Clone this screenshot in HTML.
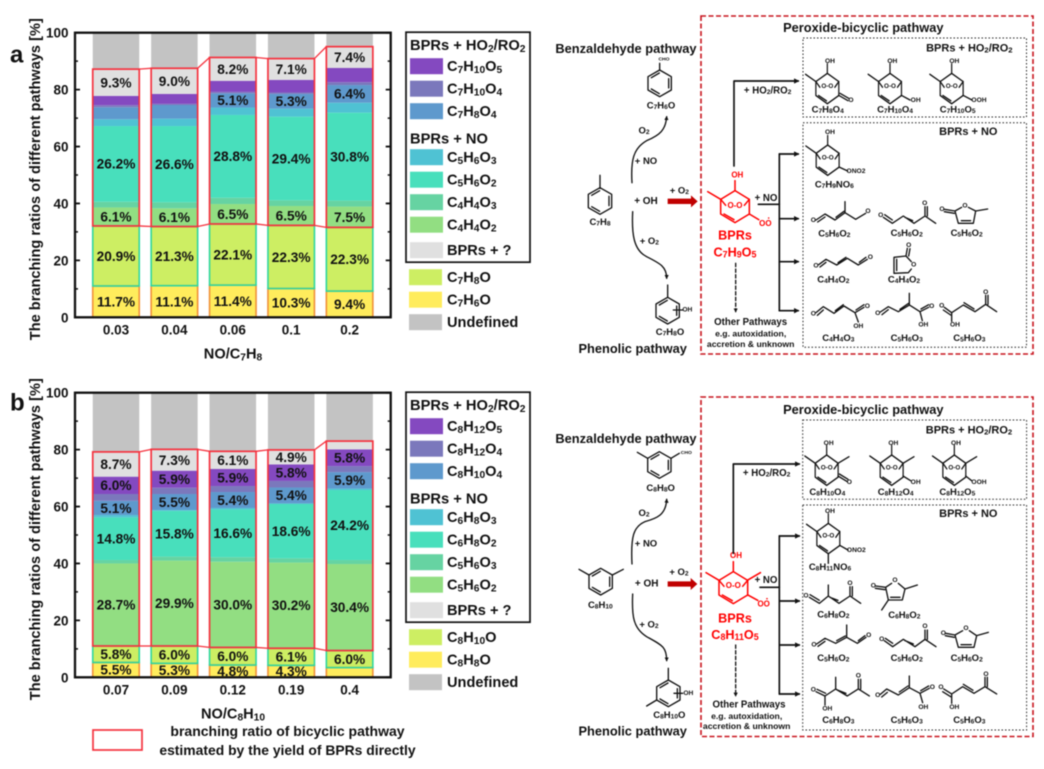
<!DOCTYPE html>
<html lang="en">
<head>
<meta charset="utf-8">
<title>Branching ratios of pathways</title>
<style>
html,body{margin:0;padding:0;background:#fff}
svg#figure{display:block;filter:blur(.45px)}
text{font-family:"Liberation Sans",Arial,sans-serif;font-weight:700;fill:#111}
tspan.s{font-size:70%;baseline-shift:-22%}
.z text{text-anchor:middle;dominant-baseline:central}
.z .f{font-size:28.5px}
.z .o{font-size:20px}
.z .p{font-size:38.5px}
.z .l{font-size:29px}
.z .m{font-size:24px}
.z .n{font-size:26px}
.z .oo{font-size:19px}
.z .bp{font-size:38px}
.z .b{fill:none;stroke:#111;stroke-width:4;stroke-linejoin:round;stroke-linecap:round}
.r text{fill:#f00}
</style>
</head>
<body>
<svg id="figure" xmlns="http://www.w3.org/2000/svg" width="1044" height="769" viewBox="0 0 1044 769">
<defs>
  <g id="core" fill="none" stroke="currentColor" stroke-width="4.5" stroke-linejoin="round" stroke-linecap="round">
    <path d="M0,0 L-43,26 L-43,70 L0,96 L43,70 L43,26 Z"/>
    <path d="M-33,70 L-3,87"/>
    <path d="M-43,26 L-28,44 M28,44 L43,26"/>
    <path d="M-43,26 L-82,3"/>
    <path d="M0,0 L0,-30"/>
  </g>
  <g id="benz" fill="none" stroke="#111" stroke-width="4" stroke-linejoin="round" stroke-linecap="round">
    <path d="M0,-40 L35,-20 L35,20 L0,40 L-35,20 L-35,-20 Z"/>
    <path d="M27,-14 L27,14 M-1,31 L-25,17 M-25,-17 L-1,-31"/>
  </g>
  <marker id="tip" viewBox="0 0 10 10" refX="8" refY="5" markerWidth="3.2" markerHeight="3.2" orient="auto" markerUnits="strokeWidth"><path d="M0,0 L10,5 L0,10 Z" fill="#111"/></marker>
</defs>

<g id="chart-root"></g>

<!-- Scheme A left -->
<g class="z" transform="translate(400,20) scale(.33333)">
  <text class="p" x="678" y="85">Benzaldehyde pathway</text>
  <g>
    <text class="o" style="font-size:15px" x="792" y="119">CHO</text>
    <path class="b" d="M779,130 L779,150"/>
    <use href="#benz" transform="translate(779,190)"/>
    <text class="f" x="783" y="258">C<tspan class="s">7</tspan>H<tspan class="s">6</tspan>O</text>
  </g>
  <path class="b" d="M696,488 C692,420 700,385 740,362 C780,345 797,330 800,290" marker-end="url(#tip)"/>
  <text class="f" x="732" y="333">O<tspan class="s">2</tspan></text>
  <text class="f" x="738" y="425">+ NO</text>
  <g>
    <path class="b" d="M600,505 L600,466"/>
    <use href="#benz" transform="translate(600,543)"/>
    <text class="f" x="600" y="607">C<tspan class="s">7</tspan>H<tspan class="s">8</tspan></text>
  </g>
  <text class="l" style="font-size:30px" x="738" y="545">+ OH</text>
  <text class="f" x="838" y="513">+ O<tspan class="s">2</tspan></text>
  <path d="M803,536 L873,536 L873,526 L893,544 L873,562 L873,552 L803,552 Z" fill="#c00000"/>
  <path class="b" d="M698,575 C695,640 700,690 740,710 C780,730 800,740 800,775" marker-end="url(#tip)"/>
  <text class="f" x="748" y="665">+ O<tspan class="s">2</tspan></text>
  <g>
    <path class="b" d="M803,795 L803,832 M820,870 L848,870"/>
    <use href="#benz" transform="translate(803,872)"/>
    <text class="o" x="862" y="870">OH</text>
    <text class="f" x="810" y="938">C<tspan class="s">7</tspan>H<tspan class="s">8</tspan>O</text>
  </g>
  <text class="p" x="698" y="985">Phenolic pathway</text>
</g>

<!-- Scheme A right -->
<rect x="701" y="16" width="332" height="338" fill="none" stroke="#c8141e" stroke-width="1.6" stroke-dasharray="5 2.5"/>
<rect x="803" y="38" width="223.5" height="79" fill="none" stroke="#222" stroke-width="1" stroke-dasharray="1.5 2"/>
<rect x="803" y="122.7" width="223.5" height="224.5" fill="none" stroke="#222" stroke-width="1" stroke-dasharray="1.5 2"/>
<g class="z" transform="translate(690,10) scale(.33333)">
  <text class="p" x="520" y="52">Peroxide-bicyclic pathway</text>
  <text class="l" style="font-size:33px" x="838" y="115">BPRs + HO<tspan class="s">2</tspan>/RO<tspan class="s">2</tspan></text>
  <text class="l" style="font-size:33px" x="835" y="366">BPRs + NO</text>
  <path class="b" style="stroke-width:5" d="M132,468 L132,213 L325,213" marker-end="url(#tip)"/>
  <text class="f" style="font-size:29px" x="233" y="243">+ HO<tspan class="s">2</tspan>/RO<tspan class="s">2</tspan></text>
  <text class="l" style="font-size:29px" x="228" y="565">+ NO</text>
  <path class="b" style="stroke-width:5" d="M205,583 L268,583"/>
  <path class="b" style="stroke-width:5" d="M268,432 L268,902"/>
  <path class="b" style="stroke-width:5" d="M268,432 L325,432" marker-end="url(#tip)"/>
  <path class="b" style="stroke-width:5" d="M268,626 L325,626" marker-end="url(#tip)"/>
  <path class="b" style="stroke-width:5" d="M268,755 L325,755" marker-end="url(#tip)"/>
  <path class="b" style="stroke-width:5" d="M268,902 L325,902" marker-end="url(#tip)"/>
  <g class="r" color="#f00">
    <use href="#core" transform="translate(135,542)"/>
    <path d="M178,612 L208,630" fill="none" stroke="#f00" stroke-width="4.5"/>
    <text class="m" x="142" y="495">OH</text>
    <text class="m" x="135" y="587">O-O</text>
    <text class="m" x="226" y="640">OO</text>
    <circle cx="236" cy="624" r="2.4" fill="#f00"/>
    <text class="bp" x="135" y="677">BPRs</text>
    <text class="bp" x="135" y="728">C<tspan class="s">7</tspan>H<tspan class="s">9</tspan>O<tspan class="s">5</tspan></text>
  </g>
  <path class="b" d="M137,760 L137,905" stroke-dasharray="10 7" marker-end="url(#tip)"/>
  <text class="l" x="182" y="937">Other Pathways</text>
  <text class="n" x="182" y="970">e.g. autoxidation,</text>
  <text class="n" x="182" y="1002">accretion &amp; unknown</text>

  <g>
    <use href="#core" transform="translate(412,190) scale(.8,.95)" color="#111"/>
    <path class="b" d="M446,256 L474,272 M450,250 L476,265"/>
    <text class="o" x="420" y="155">OH</text><text class="oo" x="412" y="229">O-O</text><text class="o" x="483" y="272">O</text>
    <text class="f" x="413" y="300">C<tspan class="s">7</tspan>H<tspan class="s">8</tspan>O<tspan class="s">4</tspan></text>
  </g>
  <g>
    <use href="#core" transform="translate(600,190) scale(.8,.95)" color="#111"/>
    <path class="b" d="M634,256 L660,270"/>
    <text class="o" x="607" y="155">OH</text><text class="oo" x="600" y="229">O-O</text><text class="o" x="677" y="272">OH</text>
    <text class="f" x="615" y="300">C<tspan class="s">7</tspan>H<tspan class="s">10</tspan>O<tspan class="s">4</tspan></text>
  </g>
  <g>
    <use href="#core" transform="translate(785,190) scale(.8,.95)" color="#111"/>
    <path class="b" d="M819,256 L846,270"/>
    <text class="o" x="793" y="155">OH</text><text class="oo" x="785" y="229">O-O</text><text class="o" x="867" y="271">OOH</text>
    <text class="f" x="803" y="300">C<tspan class="s">7</tspan>H<tspan class="s">10</tspan>O<tspan class="s">5</tspan></text>
  </g>
  <g>
    <use href="#core" transform="translate(413,405) scale(.8,.95)" color="#111"/>
    <path class="b" d="M447,471 L473,483"/>
    <text class="o" x="420" y="368">OH</text><text class="oo" x="413" y="444">O-O</text><text class="o" x="498" y="484">ONO2</text>
    <text class="f" x="433" y="525">C<tspan class="s">7</tspan>H<tspan class="s">9</tspan>NO<tspan class="s">6</tspan></text>
  </g>
  <g>
    <path class="b" d="M378,630 L405,612 L435,630 L465,608 L497,628 L527,610 M383,636 L405,621 M438,622 L462,604 M465,608 L465,575"/>
    <text class="o" x="370" y="632">O</text><text class="o" x="534" y="604">O</text>
    <text class="f" x="433" y="672">C<tspan class="s">5</tspan>H<tspan class="s">6</tspan>O<tspan class="s">2</tspan></text>
  </g>
  <g>
    <path class="b" d="M580,622 L607,640 L640,618 L672,640 L705,618 L737,640 M584,614 L607,630 M645,622 L668,632 M705,618 L705,590 M712,618 L712,590"/>
    <text class="o" x="572" y="617">O</text><text class="o" x="704" y="580">O</text>
    <text class="f" x="650" y="670">C<tspan class="s">5</tspan>H<tspan class="s">6</tspan>O<tspan class="s">2</tspan></text>
  </g>
  <g>
    <path class="b" d="M763,598 L795,603 M763,605 L793,610 M795,603 L815,592 M835,592 L857,603 L850,640 L805,640 L795,603 M814,632 L842,632 M857,603 L893,597"/>
    <text class="o" x="756" y="598">O</text><text class="o" x="825" y="588">O</text>
    <text class="f" x="830" y="670">C<tspan class="s">5</tspan>H<tspan class="s">6</tspan>O<tspan class="s">2</tspan></text>
  </g>
  <g>
    <path class="b" d="M386,764 L408,748 L440,765 L472,745 L505,765 L532,748 M390,771 L408,757 M444,758 L468,742 M508,757 L528,742"/>
    <text class="o" x="378" y="768">O</text><text class="o" x="541" y="742">O</text>
    <text class="f" x="430" y="810">C<tspan class="s">4</tspan>H<tspan class="s">4</tspan>O<tspan class="s">2</tspan></text>
  </g>
  <g>
    <path class="b" d="M652,715 L648,738 M660,716 L656,738 M648,738 L612,742 L612,790 L655,788 L664,777 M648,738 L664,755 M620,748 L620,782"/>
    <text class="o" x="656" y="706">O</text><text class="o" x="671" y="765">O</text>
    <text class="f" x="642" y="810">C<tspan class="s">4</tspan>H<tspan class="s">4</tspan>O<tspan class="s">2</tspan></text>
  </g>
  <g>
    <path class="b" d="M378,908 L400,890 L432,910 L462,888 L495,908 L522,892 M382,916 L400,900 M436,902 L460,884 M495,908 L505,936 M498,900 L522,884"/>
    <text class="o" x="370" y="912">O</text><text class="o" x="532" y="889">O</text><text class="o" x="505" y="950">OH</text>
    <text class="f" x="445" y="985">C<tspan class="s">4</tspan>H<tspan class="s">4</tspan>O<tspan class="s">3</tspan></text>
  </g>
  <g>
    <path class="b" d="M571,906 L595,890 L625,905 L658,885 L690,905 L716,892 M576,914 L595,899 M630,898 L656,880 M658,885 L658,850 M693,897 L716,884 M690,905 L697,932"/>
    <text class="o" x="563" y="910">O</text><text class="o" x="725" y="889">O</text><text class="o" x="700" y="945">OH</text>
    <text class="f" x="650" y="985">C<tspan class="s">5</tspan>H<tspan class="s">6</tspan>O<tspan class="s">3</tspan></text>
  </g>
  <g>
    <path class="b" d="M763,892 L785,908 L820,885 L855,905 L887,883 L920,905 M760,900 L782,915 M822,878 L852,897 M887,883 L887,856 M894,883 L894,856 M785,908 L785,934"/>
    <text class="o" x="755" y="888">O</text><text class="o" x="887" y="847">O</text><text class="o" x="795" y="945">OH</text>
    <text class="f" x="838" y="985">C<tspan class="s">5</tspan>H<tspan class="s">6</tspan>O<tspan class="s">3</tspan></text>
  </g>
</g>

<!-- Scheme B left -->
<g class="z" transform="translate(530,390) scale(.33333)">
  <text class="p" x="288" y="145">Benzaldehyde pathway</text>
  <g>
    <use href="#benz" transform="translate(388,225)"/>
    <path class="b" d="M353,205 L322,187 M423,205 L448,190"/>
    <text class="o" style="font-size:15px" x="469" y="189">CHO</text>
    <text class="f" x="392" y="295">C<tspan class="s">8</tspan>H<tspan class="s">8</tspan>O</text>
  </g>
  <path class="b" d="M306,522 C302,440 310,410 345,395 C380,385 408,375 410,328" marker-end="url(#tip)"/>
  <text class="f" x="342" y="370">O<tspan class="s">2</tspan></text>
  <text class="f" x="348" y="462">+ NO</text>
  <g>
    <use href="#benz" transform="translate(212,575)"/>
    <path class="b" d="M177,555 L147,538 M247,555 L280,538"/>
    <text class="f" x="211" y="647">C<tspan class="s">8</tspan>H<tspan class="s">10</tspan></text>
  </g>
  <text class="l" style="font-size:30px" x="350" y="582">+ OH</text>
  <text class="f" x="447" y="548">+ O<tspan class="s">2</tspan></text>
  <path d="M413,574 L482,574 L482,564 L502,582 L482,600 L482,590 L413,590 Z" fill="#c00000"/>
  <path class="b" d="M308,612 C305,680 310,715 350,740 C395,765 410,770 410,812" marker-end="url(#tip)"/>
  <text class="f" x="357" y="705">+ O<tspan class="s">2</tspan></text>
  <g>
    <use href="#benz" transform="translate(415,910)"/>
    <path class="b" d="M415,835 L415,870 M380,930 L350,948 M432,910 L458,910"/>
    <text class="o" x="475" y="910">OH</text>
    <text class="f" x="418" y="977">C<tspan class="s">8</tspan>H<tspan class="s">10</tspan>O</text>
  </g>
  <text class="p" x="308" y="1023">Phenolic pathway</text>
  <g class="r" color="#f00">
    <use href="#core" transform="translate(610,545)"/>
    <path d="M652,571 L693,547 M652,614 L685,632" fill="none" stroke="#f00" stroke-width="4.5"/>
    <text class="m" x="618" y="497">OH</text>
    <text class="m" x="610" y="587">O-O</text>
    <text class="m" x="701" y="642">OO</text>
    <circle cx="711" cy="626" r="2.4" fill="#f00"/>
    <text class="bp" x="615" y="685">BPRs</text>
    <text class="bp" x="615" y="735">C<tspan class="s">8</tspan>H<tspan class="s">11</tspan>O<tspan class="s">5</tspan></text>
  </g>
  <path class="b" d="M617,765 L617,918" stroke-dasharray="10 7" marker-end="url(#tip)"/>
  <text class="l" x="657" y="945">Other Pathways</text>
  <text class="n" x="650" y="978">e.g. autoxidation,</text>
  <text class="n" x="650" y="1008">accretion &amp; unknown</text>
  <text class="f" style="font-size:29px" x="710" y="250">+ HO<tspan class="s">2</tspan>/RO<tspan class="s">2</tspan></text>
  <text class="l" style="font-size:29px" x="708" y="572">+ NO</text>
  <path class="b" style="stroke-width:5" d="M690,592 L748,592"/>
  <path class="b" style="stroke-width:5" d="M610,490 L610,222 L808,222" marker-end="url(#tip)"/>
</g>

<!-- Scheme B right -->
<rect x="701" y="397" width="332" height="339.5" fill="none" stroke="#c8141e" stroke-width="1.6" stroke-dasharray="5 2.5"/>
<rect x="802.7" y="420" width="223.9" height="79.3" fill="none" stroke="#222" stroke-width="1" stroke-dasharray="1.5 2"/>
<rect x="802.7" y="505" width="223.9" height="225" fill="none" stroke="#222" stroke-width="1" stroke-dasharray="1.5 2"/>
<g class="z" transform="translate(770,390) scale(.33333)">
  <text class="p" x="280" y="58">Peroxide-bicyclic pathway</text>
  <text class="l" style="font-size:33px" x="597" y="122">BPRs + HO<tspan class="s">2</tspan>/RO<tspan class="s">2</tspan></text>
  <text class="l" style="font-size:33px" x="595" y="372">BPRs + NO</text>
  <path class="b" style="stroke-width:5" d="M28,438 L28,912"/>
  <path class="b" style="stroke-width:5" d="M28,438 L88,438" marker-end="url(#tip)"/>
  <path class="b" style="stroke-width:5" d="M28,633 L88,633" marker-end="url(#tip)"/>
  <path class="b" style="stroke-width:5" d="M28,765 L88,765" marker-end="url(#tip)"/>
  <path class="b" style="stroke-width:5" d="M28,912 L88,912" marker-end="url(#tip)"/>
  <g>
    <use href="#core" transform="translate(170,195) scale(.8,.95)" color="#111"/>
    <path class="b" d="M204,220 L237,200 M204,258 L232,275 M208,252 L234,268"/>
    <text class="o" x="176" y="160">OH</text><text class="oo" x="170" y="234">O-O</text><text class="o" x="238" y="278">O</text>
    <text class="f" x="172" y="308">C<tspan class="s">8</tspan>H<tspan class="s">10</tspan>O<tspan class="s">4</tspan></text>
  </g>
  <g>
    <use href="#core" transform="translate(365,195) scale(.8,.95)" color="#111"/>
    <path class="b" d="M399,220 L432,200 M399,258 L422,272"/>
    <text class="o" x="370" y="160">OH</text><text class="oo" x="365" y="234">O-O</text><text class="o" x="437" y="277">OH</text>
    <text class="f" x="377" y="308">C<tspan class="s">8</tspan>H<tspan class="s">12</tspan>O<tspan class="s">4</tspan></text>
  </g>
  <g>
    <use href="#core" transform="translate(553,195) scale(.8,.95)" color="#111"/>
    <path class="b" d="M587,220 L620,200 M587,258 L605,272"/>
    <text class="o" x="558" y="160">OH</text><text class="oo" x="553" y="234">O-O</text><text class="o" x="627" y="277">OOH</text>
    <text class="f" x="562" y="308">C<tspan class="s">8</tspan>H<tspan class="s">12</tspan>O<tspan class="s">5</tspan></text>
  </g>
  <g>
    <use href="#core" transform="translate(175,400) scale(.8,.95)" color="#111"/>
    <path class="b" d="M209,466 L234,480 M175,491 L175,520"/>
    <text class="o" x="180" y="365">OH</text><text class="oo" x="175" y="438">O-O</text><text class="o" x="259" y="482">ONO2</text>
    <text class="f" x="180" y="532">C<tspan class="s">8</tspan>H<tspan class="s">11</tspan>NO<tspan class="s">6</tspan></text>
  </g>
  <g>
    <path class="b" d="M118,622 L148,640 L175,618 L207,640 L240,618 L272,640 M120,614 L148,631 M180,622 L204,631 M175,618 L175,585 M240,618 L240,590 M247,618 L247,590"/>
    <text class="o" x="108" y="618">O</text><text class="o" x="240" y="580">O</text>
    <text class="f" x="190" y="675">C<tspan class="s">6</tspan>H<tspan class="s">8</tspan>O<tspan class="s">2</tspan></text>
  </g>
  <g>
    <path class="b" d="M317,588 L347,592 M316,595 L345,599 M347,592 L365,580 M385,580 L405,597 L397,630 L355,630 L347,592 M362,622 L390,622 M405,597 L442,585 M355,630 L335,660"/>
    <text class="o" x="310" y="588">O</text><text class="o" x="375" y="572">O</text>
    <text class="f" x="403" y="677">C<tspan class="s">6</tspan>H<tspan class="s">8</tspan>O<tspan class="s">2</tspan></text>
  </g>
  <g>
    <path class="b" d="M140,762 L165,745 L197,760 L230,742 L262,760 L288,742 M144,769 L165,754 M200,752 L226,738 M230,742 L230,705 M265,752 L285,737"/>
    <text class="o" x="132" y="765">O</text><text class="o" x="296" y="737">O</text>
    <text class="f" x="190" y="805">C<tspan class="s">5</tspan>H<tspan class="s">6</tspan>O<tspan class="s">2</tspan></text>
  </g>
  <g>
    <path class="b" d="M343,752 L368,770 L400,748 L435,770 L465,748 L498,770 M346,745 L368,760 M405,752 L430,762 M465,748 L465,720 M472,748 L472,720"/>
    <text class="o" x="335" y="748">O</text><text class="o" x="465" y="710">O</text>
    <text class="f" x="410" y="805">C<tspan class="s">5</tspan>H<tspan class="s">6</tspan>O<tspan class="s">2</tspan></text>
  </g>
  <g>
    <path class="b" d="M527,730 L555,735 M526,737 L553,742 M555,735 L578,722 M598,722 L620,737 L612,772 L565,772 L555,735 M573,764 L604,764 M620,737 L655,727"/>
    <text class="o" x="520" y="730">O</text><text class="o" x="588" y="715">O</text>
    <text class="f" x="590" y="805">C<tspan class="s">5</tspan>H<tspan class="s">6</tspan>O<tspan class="s">2</tspan></text>
  </g>
  <g>
    <path class="b" d="M138,905 L165,918 L197,897 L232,918 L265,897 L298,918 M141,898 L167,910 M202,900 L228,910 M197,897 L197,862 M265,897 L265,868 M272,897 L272,868 M165,918 L165,945"/>
    <text class="o" x="130" y="900">O</text><text class="o" x="265" y="858">O</text><text class="o" x="172" y="957">OH</text>
    <text class="f" x="205" y="992">C<tspan class="s">6</tspan>H<tspan class="s">8</tspan>O<tspan class="s">3</tspan></text>
  </g>
  <g>
    <path class="b" d="M331,913 L350,897 L385,915 L418,893 L450,910 L478,895 M335,921 L352,907 M388,906 L414,888 M418,893 L418,858 M452,902 L476,888 M450,910 L458,938"/>
    <text class="o" x="323" y="917">O</text><text class="o" x="487" y="893">O</text><text class="o" x="460" y="952">OH</text>
    <text class="f" x="410" y="992">C<tspan class="s">5</tspan>H<tspan class="s">6</tspan>O<tspan class="s">3</tspan></text>
  </g>
  <g>
    <path class="b" d="M521,897 L545,912 L578,890 L612,910 L645,890 L680,912 M518,905 L542,920 M580,883 L609,901 M645,890 L645,862 M652,890 L652,862 M545,912 L545,940"/>
    <text class="o" x="513" y="893">O</text><text class="o" x="648" y="853">O</text><text class="o" x="553" y="952">OH</text>
    <text class="f" x="598" y="992">C<tspan class="s">5</tspan>H<tspan class="s">6</tspan>O<tspan class="s">3</tspan></text>
  </g>
</g>

<g>
  <rect x="93" y="730" width="49" height="20" fill="none" stroke="#f5333f" stroke-width="1.7"/>
  <text x="287.5" y="736" text-anchor="middle" font-size="14">branching ratio of bicyclic pathway</text>
  <text x="287.5" y="755" text-anchor="middle" font-size="13.9">estimated by the yield of BPRs directly</text>
</g>

<script>
// ---------- tick labels ----------
const yTicks = [0, 20, 40, 60, 80, 100];
const yMinorTicks = [10, 30, 50, 70, 90];

// ---------- panel a data (stack order, bottom to top) ----------
const categoriesA = ['0.03', '0.04', '0.06', '0.1', '0.2'];
const c7h6oA    = [11.0, 11.1, 11.3, 10.1, 9.2];
const c7h8oA    = [21.1, 20.8, 21.5, 22.2, 22.4];
const c4h4o2A   = [6.5, 6.4, 7.0, 6.8, 7.3];
const c4h4o3A   = [2.0, 2.1, 2.2, 2.0, 2.1];
const c5h6o2A   = [26.6, 26.8, 29.1, 29.4, 30.9];
const c5h6o3A   = [2.4, 2.6, 2.6, 2.8, 3.5];
const c7h8o4A   = [4.2, 4.8, 5.0, 5.2, 6.2];
const c7h10o4A  = [0.7, 0.4, 0.5, 0.5, 1.0];
const c7h10o5A  = [3.3, 3.5, 3.9, 4.4, 5.0];
const unknownA  = [9.4, 9.0, 8.2, 7.5, 7.5];
const undefA    = [12.8, 12.5, 8.7, 9.1, 4.9];
const labelC7h6oA  = ['11.7%', '11.1%', '11.4%', '10.3%', '9.4%'];
const labelC7h8oA  = ['20.9%', '21.3%', '22.1%', '22.3%', '22.3%'];
const labelC4h4o2A = ['6.1%', '6.1%', '6.5%', '6.5%', '7.5%'];
const labelC5h6o2A = ['26.2%', '26.6%', '28.8%', '29.4%', '30.8%'];
const labelC7h8o4A = [null, null, '5.1%', '5.3%', '6.4%'];
const labelUnknownA = ['9.3%', '9.0%', '8.2%', '7.1%', '7.4%'];
const labelNoneA = [null, null, null, null, null];
const namesA = ['C7H6O', 'C7H8O', 'C4H4O2', 'C4H4O3', 'C5H6O2', 'C5H6O3', 'C7H8O4', 'C7H10O4', 'C7H10O5', 'BPRs + ?', 'Undefined'];

// ---------- panel b data (stack order, bottom to top) ----------
const categoriesB = ['0.07', '0.09', '0.12', '0.19', '0.4'];
const c8h8oB    = [5.2, 4.9, 4.3, 4.2, 3.4];
const c8h10oB   = [5.8, 6.1, 6.2, 6.0, 6.0];
const c5h6o2B   = [29.0, 30.0, 30.1, 30.1, 30.4];
const c5h6o3B   = [1.2, 1.4, 1.6, 1.5, 1.4];
const c6h8o2B   = [15.0, 16.1, 16.8, 19.1, 24.6];
const c6h8o3B   = [0.8, 0.3, 0.5, 0.2, 0.5];
const c8h10o4B  = [5.0, 5.6, 5.6, 5.6, 5.8];
const c8h12o4B  = [2.4, 2.2, 2.1, 2.3, 2.1];
const c8h12o5B  = [6.1, 6.0, 6.0, 5.8, 5.9];
const unknownB  = [8.7, 7.5, 6.2, 5.1, 2.9];
const undefB    = [20.8, 19.9, 20.6, 20.1, 17.0];
const labelC8h8oB  = ['5.5%', '5.3%', '4.8%', '4.3%', null];
const labelC8h10oB = ['5.8%', '6.0%', '6.0%', '6.1%', '6.0%'];
const labelC5h6o2B = ['28.7%', '29.9%', '30.0%', '30.2%', '30.4%'];
const labelC6h8o2B = ['14.8%', '15.8%', '16.6%', '18.6%', '24.2%'];
const labelC8h10o4B = ['5.1%', '5.5%', '5.4%', '5.4%', '5.9%'];
const labelC8h12o5B = ['6.0%', '5.9%', '5.9%', '5.8%', '5.8%'];
const labelUnknownB = ['8.7%', '7.3%', '6.1%', '4.9%', null];
const labelNoneB = [null, null, null, null, null];
const namesB = ['C8H8O', 'C8H10O', 'C5H6O2', 'C5H6O3', 'C6H8O2', 'C6H8O3', 'C8H10O4', 'C8H12O4', 'C8H12O5', 'BPRs + ?', 'Undefined'];

const seriesColors = ['#ffec5c', '#cdee63', '#92de82', '#66d3a2', '#48dfbc', '#4fc2d3', '#5e99cd', '#7b78bc', '#8449c0', '#e0e0e0', '#c3c3c3'];

const NS = 'http://www.w3.org/2000/svg';
const root = document.getElementById('chart-root');
const BAR_W = 46.5;
const FRAME_L = 75, FRAME_R = 390.7, PLOT_H = 284.6;

function xScale(i) { return 116 + i * 58.4; }
function yScale(v, top) { return top + PLOT_H * (1 - v / 100); }

function node(tag, parent, attrs) {
  const el = document.createElementNS(NS, tag);
  for (const k in attrs) el.setAttribute(k, attrs[k]);
  parent.appendChild(el);
  return el;
}
function formula(el, str) {
  str.split(/(\d+)/).forEach(function (part, i) {
    if (!part) return;
    if (i % 2) {
      const t = document.createElementNS(NS, 'tspan');
      t.setAttribute('class', 's');
      t.textContent = part;
      el.appendChild(t);
    } else {
      el.appendChild(document.createTextNode(part));
    }
  });
}

function drawPanel(key, top, categories, series, labels, names, axisTitle, letter, legendTitles) {
  const g = node('g', root, {});
  
  

  categories.forEach(function (cat, i) {
    const x = xScale(i) - BAR_W / 2;
    let base = 0;
    const cum = [];
    series.forEach(function (vals, s) {
      const y0 = yScale(base, top);
      base += vals[i];
      const y1 = yScale(base, top);
      cum.push(base);
      const bar = node('rect', g, { x: x, y: y1, width: BAR_W, height: y0 - y1, fill: seriesColors[s] });
      
      
    });
    const orange = node('rect', g, { x: x, y: yScale(cum[0], top), width: BAR_W, height: yScale(0, top) - yScale(cum[0], top), fill: 'none', stroke: '#f0913a', 'stroke-width': 1.6 });
    
    
    const green = node('rect', g, { x: x, y: yScale(cum[1], top), width: BAR_W, height: yScale(cum[0], top) - yScale(cum[1], top), fill: 'none', stroke: '#2fd6a0', 'stroke-width': 1.6 });
    
    
    const red = node('rect', g, { x: x, y: yScale(cum[9], top), width: BAR_W, height: yScale(cum[1], top) - yScale(cum[9], top), fill: 'none', stroke: '#f5333f', 'stroke-width': 1.7 });
    
    
    if (i < categories.length - 1) {
      let nextBase1 = series[0][i + 1] + series[1][i + 1];
      let nextTop = 0;
      for (let s = 0; s < 10; s++) nextTop += series[s][i + 1];
      const linkLow = node('line', g, { x1: x + BAR_W, y1: yScale(cum[1], top), x2: xScale(i + 1) - BAR_W / 2, y2: yScale(nextBase1, top), stroke: '#f5333f', 'stroke-width': 1.3 });
      
      
      const linkHigh = node('line', g, { x1: x + BAR_W, y1: yScale(cum[9], top), x2: xScale(i + 1) - BAR_W / 2, y2: yScale(nextTop, top), stroke: '#f5333f', 'stroke-width': 1.3 });
      
      
    }
    series.forEach(function (vals, s) {
      const txt = labels[s][i];
      if (!txt) return;
      const lower = s === 0 ? 0 : cum[s - 1];
      const label = node('text', g, { x: xScale(i), y: yScale((lower + cum[s]) / 2, top) + 4.8, 'text-anchor': 'middle', 'font-size': 13.7 });
      
      
      label.textContent = txt;
    });
  });

  // frame and axes
  const frame = node('rect', g, { x: FRAME_L, y: top, width: FRAME_R - FRAME_L, height: PLOT_H, fill: 'none', stroke: '#111', 'stroke-width': 2.3 });
  
  
  yTicks.forEach(function (t) {
    const y = yScale(t, top);
    const tick = node('path', g, { d: 'M' + FRAME_L + ',' + y + 'h5M' + FRAME_R + ',' + y + 'h-5', stroke: '#111', 'stroke-width': 1.8, fill: 'none' });
    
    
    const lab = node('text', g, { x: 68.5, y: y + 5, 'text-anchor': 'end', 'font-size': 13.5 });
    
    
    lab.textContent = t;
  });
  yMinorTicks.forEach(function (t) {
    const y = yScale(t, top);
    const tick = node('path', g, { d: 'M' + FRAME_L + ',' + y + 'h3M' + FRAME_R + ',' + y + 'h-3', stroke: '#111', 'stroke-width': 1.5, fill: 'none' });
    
    
  });
  categories.forEach(function (cat, i) {
    const lab = node('text', g, { x: xScale(i), y: top + PLOT_H + 17.3, 'text-anchor': 'middle', 'font-size': 13.5 });
    
    
    lab.textContent = cat;
  });
  const xTitle = node('text', g, { x: 233, y: top + PLOT_H + 41, 'text-anchor': 'middle', 'font-size': 14.6 });
  
  
  formula(xTitle, axisTitle);
  const yTitle = node('text', g, { transform: 'translate(40,' + (top + 146.5) + ') rotate(-90)', 'text-anchor': 'middle', 'font-size': 14.5, textLength: 322 });
  
  
  yTitle.textContent = 'The branching ratios of different pathways [%]';
  const panelLetter = node('text', g, { x: 10, y: top + (key === 'a' ? 30 : 18), 'font-size': 24 });
  
  
  panelLetter.textContent = letter;

  // legend
  const box = node('rect', g, { x: 406, y: top - 0.5, width: 124, height: 230, fill: '#fff', stroke: '#111', 'stroke-width': 1.7 });
  
  
  const head1 = node('text', g, { x: 410, y: top + 17.5, 'font-size': 14.7 });
  
  
  formula(head1, legendTitles[0]);
  const head2 = node('text', g, { x: 410, y: top + 111, 'font-size': 14.7 });
  
  
  formula(head2, legendTitles[1]);
  const rowOrder = [8, 7, 6, 5, 4, 3, 2, 9, 1, 0, 10];
  const rowOffset = [25.5, 48, 70.5, 116.5, 139, 161.5, 184, 209.5, 236.5, 259, 281.5];
  rowOrder.forEach(function (s, r) {
    const inset = r > 7 ? 409 : 410;
    const swatch = node('rect', g, { x: inset, y: top + rowOffset[r], width: 33, height: 16, fill: seriesColors[s] });
    
    
    const lab = node('text', g, { x: 447, y: top + rowOffset[r] + 13, 'font-size': 14.6 });
    
    
    formula(lab, names[s]);
  });
}

drawPanel('a', 32.7, categoriesA,
  [c7h6oA, c7h8oA, c4h4o2A, c4h4o3A, c5h6o2A, c5h6o3A, c7h8o4A, c7h10o4A, c7h10o5A, unknownA, undefA],
  [labelC7h6oA, labelC7h8oA, labelC4h4o2A, labelNoneA, labelC5h6o2A, labelNoneA, labelC7h8o4A, labelNoneA, labelNoneA, labelUnknownA, labelNoneA],
  namesA, 'NO/C7H8', 'a', ['BPRs + HO2/RO2', 'BPRs + NO']);

drawPanel('b', 392.7, categoriesB,
  [c8h8oB, c8h10oB, c5h6o2B, c5h6o3B, c6h8o2B, c6h8o3B, c8h10o4B, c8h12o4B, c8h12o5B, unknownB, undefB],
  [labelC8h8oB, labelC8h10oB, labelC5h6o2B, labelNoneB, labelC6h8o2B, labelNoneB, labelC8h10o4B, labelNoneB, labelC8h12o5B, labelUnknownB, labelNoneB],
  namesB, 'NO/C8H10', 'b', ['BPRs + HO2/RO2', 'BPRs + NO']);
</script>
</svg>
</body>
</html>
